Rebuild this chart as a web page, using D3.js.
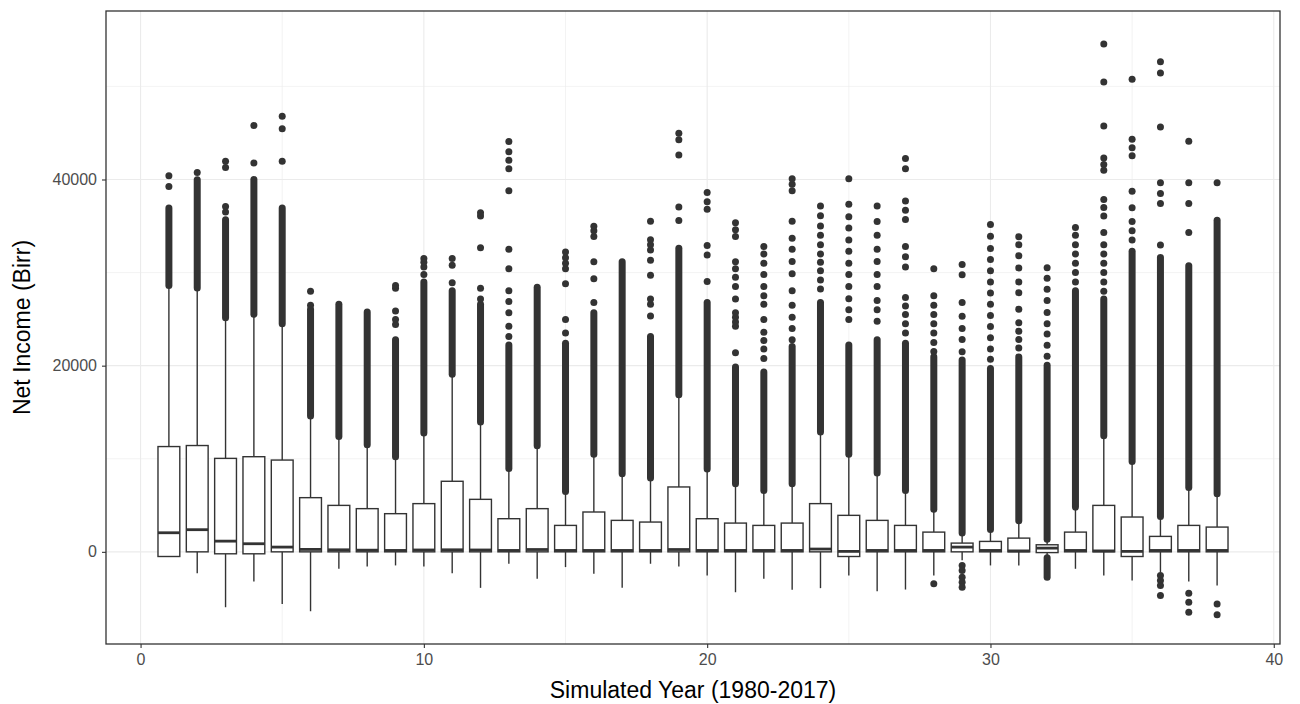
<!DOCTYPE html>
<html>
<head>
<meta charset="utf-8">
<script src="https://cdn.jsdelivr.net/npm/d3@7"></script>
<style>
  body { margin: 0; background: #fff; }
  text { font-family: "Liberation Sans", Arial, sans-serif; }
</style>
</head>
<body>
<div id="chart"></div>
<script>
// values, one entry per simulated year
var years = d3.range(1, 39);
var q1 = [-500, 0, -210, -210, 0, 0, 0, 0, 0, 0, 0, 0, 0, 0, 0, 0, 0, 0, 0, 0,
          0, 0, 0, 0, -500, 0, 0, 0, 0, 0, 0, -80, 0, 0, -500, 0, 0, 0];
var med = [2050, 2380, 1150, 870, 510, 260, 220, 180, 150, 200, 220, 200, 150, 250, 150, 150, 150, 150, 250, 150,
           150, 150, 150, 300, 50, 150, 150, 150, 510, 150, 100, 400, 150, 100, 50, 150, 150, 150];
var q3 = [11310, 11420, 10040, 10220, 9860, 5820, 4990, 4640, 4100, 5180, 7580, 5640, 3560, 4640, 2840, 4280, 3380, 3200, 6970, 3560,
          3090, 2840, 3090, 5180, 3920, 3380, 2840, 2120, 940, 1120, 1475, 760, 2120, 4990, 3740, 1660, 2840, 2660];
var whiskLo = [-500, -2290, -5950, -3190, -5590, -6380, -1820, -1570, -1460, -1570, -2290, -3870, -1280, -2900, -1640, -2360, -3870, -1280, -1570, -2540,
               -4340, -2900, -4080, -3900, -2540, -4230, -4050, -2540, -900, -1460, -1460, -450, -1820, -2540, -3080, -2180, -3190, -3620];
var whiskHi = [28600, 28350, 25150, 25510, 24490, 14600, 12400, 11500, 10220, 12770, 19070, 13940, 8950, 11390, 6470, 10480, 8400, 7930, 16880, 8900,
               7310, 6580, 7310, 12880, 10480, 8480, 6580, 4580, 2030, 2400, 3340, 1340, 4810, 12470, 9710, 3790, 6900, 6240];
// top of the solid run of outliers above each whisker
var denseHi = [36930, 39980, 35670, 40000, 36930, 26050, 26600, 25770, 22780, 29000, 28060, 26600, 22230, 28420, 22420, 25690, 31150, 23140, 32610, 26780,
               19870, 19320, 22050, 26780, 22230, 22780, 22420, 20960, 20600, 19690, 20930, 20040, 28060, 27170, 32290, 31620, 30730, 35630];
var upperDots = [
  [39260, 40410], [40760], [36500, 37100, 41300, 41950], [41780, 45790], [41950, 45440, 46800],
  [26500, 28000], [], [], [24420, 24960, 25870, 28310, 28600], [29800, 30600, 31100, 31500],
  [28900, 30790, 31520], [27150, 28310, 32680, 36070, 36430],
  [23140, 24240, 25690, 26890, 28060, 30420, 32500, 38800, 41160, 42070, 42980, 44070],
  [], [23510, 24960, 28790, 30420, 31000, 31600, 32200], [26780, 29330, 31150, 33880, 34500, 34970], [],
  [25330, 26600, 27150, 29700, 31330, 32430, 33000, 33520, 35520], [35590, 37050, 42620, 44260, 44980],
  [29040, 31880, 32900, 36790, 37600, 38610],
  [21400, 24240, 24700, 25200, 25690, 27150, 28500, 29500, 30400, 31150, 33880, 34600, 35340],
  [20780, 21800, 22700, 23600, 24960, 26600, 27500, 28500, 29800, 31000, 32000, 32790],
  [22780, 24000, 25200, 26500, 28060, 29880, 31200, 32500, 33700, 35520, 38800, 39500, 40070],
  [28240, 29200, 30200, 31100, 32000, 33000, 34000, 35000, 36100, 37160],
  [24960, 26000, 27200, 28500, 29800, 31000, 32300, 33500, 34800, 36000, 37340, 40070],
  [24780, 26000, 27000, 28500, 29800, 31200, 32500, 34000, 35500, 37160],
  [23510, 24500, 25500, 26400, 27330, 30610, 31700, 32790, 35700, 36700, 37700, 41160, 42250],
  [21510, 22500, 23500, 24500, 25500, 26500, 27510, 30420],
  [21500, 22800, 24000, 25300, 26780, 29770, 30860],
  [20700, 21800, 23000, 24200, 25400, 26600, 27800, 29000, 30200, 31400, 32600, 33900, 35160],
  [21900, 22800, 23700, 24600, 26060, 27840, 29000, 30500, 31800, 33000, 33850],
  [21000, 22200, 23400, 24500, 25700, 27000, 28200, 29400, 30510],
  [29000, 30000, 31000, 32000, 33000, 34000, 34830],
  [28000, 29000, 30000, 31000, 32000, 33000, 34300, 36080, 37000, 37860, 40980, 41600, 42310, 45740, 50460, 54560],
  [33500, 34500, 35500, 36970, 38750, 42540, 43400, 44320, 50780],
  [32960, 37410, 38500, 39640, 45650, 51440, 52650],
  [34300, 37410, 39640, 44100],
  [39640]
];
var lowerDots = [[28, -3435], [29, -1460], [29, -2000], [29, -2720], [29, -3260], [29, -3800],
                 [36, -2540], [36, -3070], [36, -3610], [36, -4690],
                 [37, -4440], [37, -5410], [37, -6490], [38, -5590], [38, -6770]];
var lowBands = [[32, -640, -2720]];
var xTicks = [0, 10, 20, 30, 40];
var yTicks = [0, 20000, 40000];

var W = 1300, H = 704;
var padL = 106, padR = 1280, padT = 11, padB = 644;
var ink = "#333333";

var svg = d3.select("#chart").append("svg")
    .attr("width", W).attr("height", H);
svg.append("rect").attr("width", W).attr("height", H).attr("fill", "#fff");

var x = d3.scaleLinear().domain([-1.22, 40.22]).range([padL, padR]);
var y = d3.scaleLinear().domain([-9900, 58100]).range([padB, padT]);
var boxW = x(0.77) - x(0);

// grid
var grid = svg.append("g");
[5, 15, 25, 35].forEach(function (v) {
  grid.append("line").attr("x1", x(v)).attr("x2", x(v)).attr("y1", padT).attr("y2", padB)
    .attr("stroke", "#ebebeb").attr("stroke-width", 0.6);
});
[10000, 30000, 50000].forEach(function (v) {
  grid.append("line").attr("x1", padL).attr("x2", padR).attr("y1", y(v)).attr("y2", y(v))
    .attr("stroke", "#ebebeb").attr("stroke-width", 0.6);
});
xTicks.forEach(function (v) {
  grid.append("line").attr("x1", x(v)).attr("x2", x(v)).attr("y1", padT).attr("y2", padB)
    .attr("stroke", "#ebebeb").attr("stroke-width", 1.1);
});
yTicks.forEach(function (v) {
  grid.append("line").attr("x1", padL).attr("x2", padR).attr("y1", y(v)).attr("y2", y(v))
    .attr("stroke", "#ebebeb").attr("stroke-width", 1.1);
});

// boxes
var boxes = svg.append("g");
years.forEach(function (yr, i) {
  var cx = x(yr);
  var g = boxes.append("g");
  g.append("line").attr("x1", cx).attr("x2", cx).attr("y1", y(q3[i])).attr("y2", y(whiskHi[i]))
    .attr("stroke", ink).attr("stroke-width", 1.4);
  g.append("line").attr("x1", cx).attr("x2", cx).attr("y1", y(q1[i])).attr("y2", y(whiskLo[i]))
    .attr("stroke", ink).attr("stroke-width", 1.4);
  g.append("rect").attr("x", cx - boxW / 2).attr("width", boxW)
    .attr("y", y(q3[i])).attr("height", y(q1[i]) - y(q3[i]))
    .attr("fill", "#fff").attr("stroke", ink).attr("stroke-width", 1.4);
  g.append("line").attr("x1", cx - boxW / 2).attr("x2", cx + boxW / 2)
    .attr("y1", y(med[i])).attr("y2", y(med[i]))
    .attr("stroke", ink).attr("stroke-width", 2.8);
  // solid run of outliers
  g.append("line").attr("x1", cx).attr("x2", cx).attr("y1", y(whiskHi[i])).attr("y2", y(denseHi[i]))
    .attr("stroke", ink).attr("stroke-width", 7).attr("stroke-linecap", "round");
  g.selectAll("circle").data(upperDots[i]).enter().append("circle")
    .attr("cx", cx).attr("cy", function (d) { return y(d); }).attr("r", 3.5).attr("fill", ink);
});
lowBands.forEach(function (b) {
  boxes.append("line").attr("x1", x(b[0])).attr("x2", x(b[0])).attr("y1", y(b[1])).attr("y2", y(b[2]))
    .attr("stroke", ink).attr("stroke-width", 7).attr("stroke-linecap", "round");
});
boxes.selectAll("circle.low").data(lowerDots).enter().append("circle")
  .attr("class", "low")
  .attr("cx", function (d) { return x(d[0]); }).attr("cy", function (d) { return y(d[1]); })
  .attr("r", 3.5).attr("fill", ink);

// panel border
svg.append("rect").attr("x", padL).attr("y", padT).attr("width", padR - padL).attr("height", padB - padT)
  .attr("fill", "none").attr("stroke", ink).attr("stroke-width", 1.3);

// axes
var xAxis = svg.append("g").attr("transform", "translate(0," + padB + ")")
  .call(d3.axisBottom(x).tickValues(xTicks).tickSize(4).tickPadding(6).tickFormat(d3.format("d")));
var yAxis = svg.append("g").attr("transform", "translate(" + padL + ",0)")
  .call(d3.axisLeft(y).tickValues(yTicks).tickSize(4).tickPadding(5).tickFormat(d3.format("d")));
[xAxis, yAxis].forEach(function (a) {
  a.select(".domain").remove();
  a.selectAll(".tick line").attr("stroke", ink).attr("stroke-width", 1.1);
  a.selectAll(".tick text").attr("fill", "#4d4d4d").style("font-size", "16px")
    .style("font-family", "'Liberation Sans', Arial, sans-serif");
});

svg.append("text").attr("x", (padL + padR) / 2).attr("y", 698)
  .attr("text-anchor", "middle").style("font-size", "23px").attr("fill", "#000")
  .text("Simulated Year (1980-2017)");
svg.append("text").attr("transform", "translate(30," + ((padT + padB) / 2) + ") rotate(-90)")
  .attr("text-anchor", "middle").style("font-size", "23px").attr("fill", "#000")
  .text("Net Income (Birr)");
</script>
</body>
</html>
